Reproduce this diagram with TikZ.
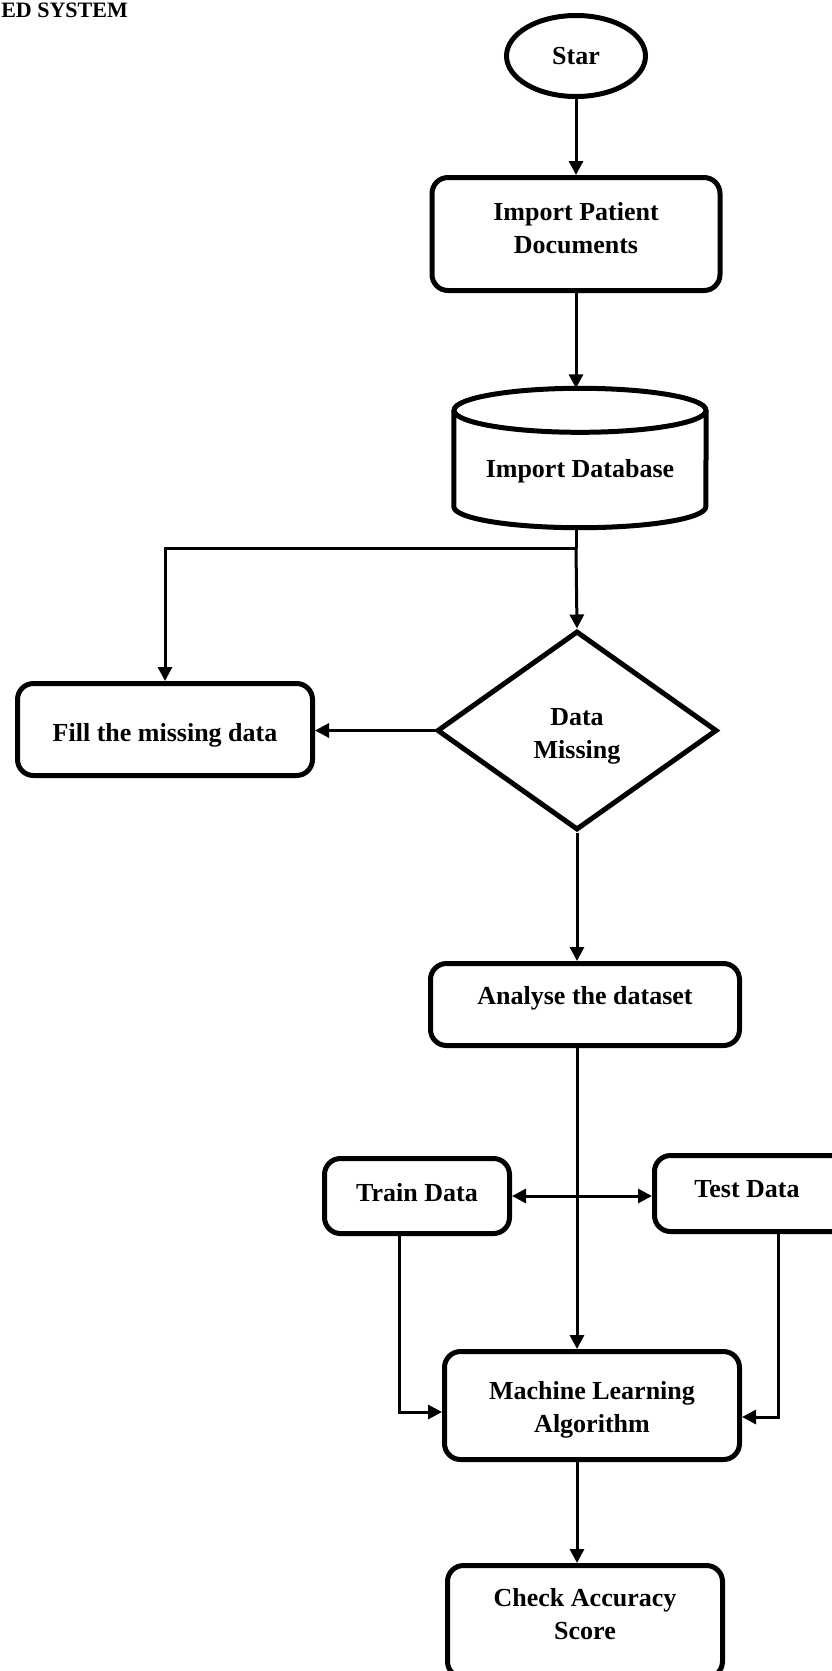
\documentclass[tikz,border=0pt]{standalone}
\usepackage{fontspec}
\setmainfont{Liberation Serif}
\usetikzlibrary{shapes.geometric,arrows.meta,calc}
\begin{document}
\begin{tikzpicture}[x=1pt,y=1pt,
  txt/.style={font=\bfseries\fontsize{26}{33}\selectfont},
  box/.style={txt,draw,line width=5pt,rounded corners=16pt,align=center,inner sep=0pt},
  conn/.style={line width=3pt},
  arr/.style={conn,-{Triangle[length=14pt,width=14pt]}},
  darr/.style={conn,{Triangle[length=14pt,width=14pt]}-{Triangle[length=14pt,width=14pt]}},
]
\useasboundingbox (0,0) rectangle (832,-1671);
\fill[white] (0,0) rectangle (832,-1671);

\node[anchor=base east,inner sep=0pt,font=\bfseries\fontsize{22}{26}\selectfont] (title) at (128,-17) {ED SYSTEM};

\node[txt,ellipse,draw,line width=5pt,minimum width=139pt,minimum height=81pt,inner sep=0pt] (start) at (576,-56) {Star};
\node[box,minimum width=288pt,minimum height=113pt,text height=60pt,text depth=22pt] (imp) at (576,-234) {Import Patient\\Documents};

\node[txt,minimum width=252pt,minimum height=139pt,inner sep=0pt,text height=40pt,text depth=2pt] (db) at (580,-458) {Import Database};
\draw[line width=5pt] ($(db.north)+(0,-22)$) ellipse[x radius=126, y radius=22];
\draw[line width=5pt,line join=round] ($(db.north west)+(0,-22)$) -- ($(db.south west)+(0,21)$) arc[start angle=180,end angle=360,x radius=126,y radius=21] -- ($(db.north east)+(0,-22)$);

\node[txt,diamond,draw,line width=5pt,minimum width=280pt,minimum height=199pt,inner sep=0pt,aspect=1.4,align=center,text height=60pt,text depth=5pt] (dm) at (577,-730.5) {Data\\Missing};
\node[box,minimum width=295pt,minimum height=92pt,text height=26pt,text depth=2pt] (fill) at (165,-729.5) {Fill the missing data};
\node[box,minimum width=309pt,minimum height=82pt,text height=20pt,text depth=21pt] (an) at (585,-1004.5) {Analyse the dataset};
\node[box,minimum width=185pt,minimum height=75pt,text height=20pt,text depth=10pt] (tr) at (417,-1196) {Train Data};
\node[box,minimum width=210pt,minimum height=76pt,text height=20pt,text depth=13pt] (te) at (759.5,-1193.5) {Test Data\hspace{25pt}};
\node[box,minimum width=295pt,minimum height=108pt,text height=60pt,text depth=6pt] (ml) at (592,-1405.5) {Machine Learning\\Algorithm};
\node[box,minimum width=275pt,minimum height=112pt,text height=60pt,text depth=24pt] (chk) at (585,-1621.5) {Check Accuracy\\Score};

\coordinate (split) at (576,-548);
\draw[arr] (start.south) -- (imp.north);
\draw[arr] (imp.south) -- (imp.south |- db.north);
\draw[conn] (imp.south |- db.south) -- (split);
\draw[arr] (split) -- (dm.north);
\draw[arr] (split) -| (fill.north);
\draw[arr] (dm.west) -- (dm.west -| fill.east);
\draw[arr] (dm.south) -- (dm.south |- an.north);
\draw[arr] (dm.south |- an.south) -- (dm.south |- ml.north);
\draw[darr] (tr.east) -- (tr.east -| te.west);
\draw[arr] ([xshift=-18pt]tr.south) |- ([yshift=-6.5pt]ml.west);
\draw[arr] ([xshift=18.5pt]te.south) |- ([yshift=-11.5pt]ml.east);
\draw[arr] (dm.south |- ml.south) -- (dm.south |- chk.north);
\end{tikzpicture}
\end{document}
